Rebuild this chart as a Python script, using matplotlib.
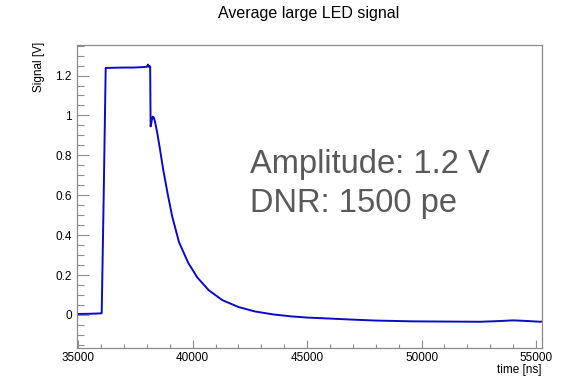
import matplotlib
matplotlib.use("Agg")
import matplotlib.pyplot as plt
from matplotlib.ticker import MultipleLocator, FuncFormatter

plt.rcParams['font.family'] = ['Liberation Sans', 'DejaVu Sans']

# averaged LED waveform
time_ns = [34930, 35500, 36000, 36023, 36110, 36197, 36600, 37000, 37400, 37800,
           38000, 38046, 38080, 38120, 38140, 38160, 38210, 38251, 38300, 38352,
           38450, 38570, 38700, 38900, 39100, 39400, 39800, 40200, 40700, 41300,
           42000, 42700, 43500, 44300, 45000, 46000, 46729, 48000, 49640, 51000,
           52554, 53300, 54010, 54600, 55175, 55249]
signal_v = [0.005, 0.006, 0.008, 0.010, 0.60, 1.238, 1.239, 1.240, 1.240, 1.242,
            1.244, 1.255, 1.244, 1.247, 1.245, 0.945, 0.975, 0.994, 0.990, 0.969,
            0.912, 0.830, 0.735, 0.610, 0.495, 0.365, 0.262, 0.188, 0.124, 0.074,
            0.040, 0.018, 0.003, -0.007, -0.013, -0.018, -0.022, -0.028, -0.032, -0.033,
            -0.034, -0.031, -0.027, -0.030, -0.034, -0.033]

title = "Average large LED signal"
xlabel = "time [ns]"
ylabel = "Signal [V]"
note_lines = ["Amplitude: 1.2 V", "DNR: 1500 pe"]

W, H = 569, 380
fig = plt.figure(figsize=(W / 100, H / 100), dpi=100)
ax = fig.add_axes([76.7 / W, 1 - 347.7 / H, (541.7 - 76.7) / W, (347.7 - 45) / H])

ax.plot(time_ns, signal_v, color='#0a0ac8', lw=1.4)

ax.set_xlim(34930, 55249)
ax.set_ylim(-0.164, 1.353)

ax.xaxis.set_major_locator(MultipleLocator(5000))
ax.xaxis.set_minor_locator(MultipleLocator(1000))
ax.yaxis.set_major_locator(MultipleLocator(0.2))
ax.yaxis.set_minor_locator(MultipleLocator(0.05))
ax.yaxis.set_major_formatter(FuncFormatter(lambda v, p: '%g' % round(v, 3)))

frame = '#8c8c8c'
for s in ax.spines.values():
    s.set_color(frame)
    s.set_linewidth(0.9)
ax.tick_params(axis='both', which='both', direction='in', colors=frame,
               labelcolor='black', labelsize=8.5, top=False, right=False)
ax.tick_params(axis='y', which='major', length=8.4, width=0.8, pad=3.5)
ax.tick_params(axis='y', which='minor', length=4.8, width=0.8)
ax.tick_params(axis='x', which='major', length=5.5, width=0.8, pad=3)
ax.tick_params(axis='x', which='minor', length=2.6, width=0.8)

fig.text(309 / W, 1 - 18.3 / H, title, ha='center', va='baseline', fontsize=11.5)
fig.text(541.7 / W, 1 - 370 / H, xlabel, ha='right', va='center', fontsize=8.5)
fig.text(39 / W, 1 - 42 / H, ylabel, ha='center', va='top', rotation=90, fontsize=8.5)

fig.text(250 / W, 1 - 172.7 / H, note_lines[0], ha='left', va='baseline',
         fontsize=23.5, color='#595959')
fig.text(250 / W, 1 - 211.7 / H, note_lines[1], ha='left', va='baseline',
         fontsize=23.5, color='#595959')

fig.savefig("out.png", dpi=100)
